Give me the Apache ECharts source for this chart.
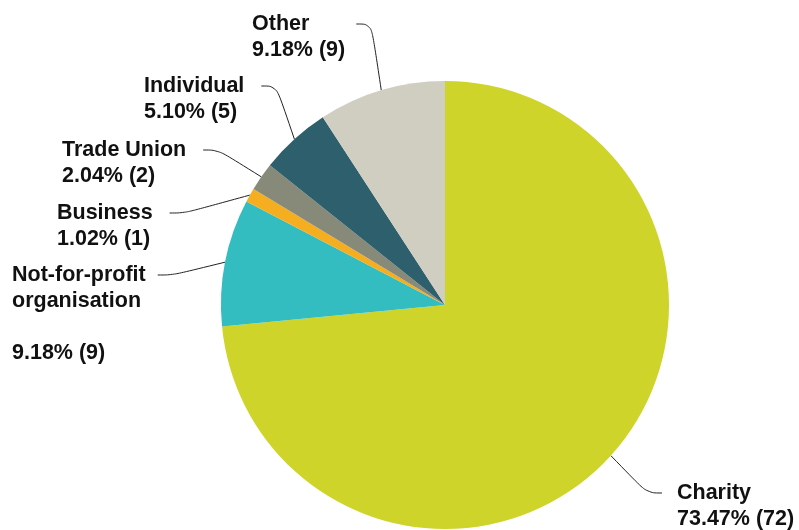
<!DOCTYPE html>
<html>
<head>
<meta charset="utf-8">
<script src="https://cdn.jsdelivr.net/npm/echarts@6/dist/echarts.min.js"></script>
<style>html,body{margin:0;padding:0;background:#fff}#chart{width:799px;height:530px}</style>
</head>
<body>
<div id="chart"></div>
<script>
const categories = ['Charity', 'Not-for-profit organisation', 'Business', 'Trade Union', 'Individual', 'Other'];
const labelHeads = ['Charity', 'Not-for-profit', 'Business', 'Trade Union', 'Individual', 'Other'];
const labelTails = ['', 'organisation\n\n', '', '', '', ''];
const counts = [72, 9, 1, 2, 5, 9];
const colors = ['#cfd42b', '#33bdc0', '#f5ae20', '#888a79', '#2e5f6c', '#d0cec1'];

// label layout (top-left of each text block) and gap to the connector line
const labelPos = [[677, 480], [12, 262], [57, 200], [62, 137], [144, 73], [252, 11]];
const labelGap = [[0, 0, 0, 15], [0, 12, 0, 0], [0, 17, 0, 0], [0, 17, 0, 0], [0, 17, 0, 0], [0, 47, 0, 0]];
const LINE_H = 26;

const total = counts.reduce((a, b) => a + b, 0);
const pct = v => (v / total * 100).toFixed(2) + '% (' + v + ')';
const font = {
  color: '#111',
  fontFamily: 'Liberation Sans, Arial, sans-serif',
  fontWeight: 'bold',
  fontSize: 21.5,
  lineHeight: LINE_H,
  align: 'left'
};
const pieBase = {
  type: 'pie',
  center: [445, 305],
  radius: 224,
  startAngle: 90,
  clockwise: true,
  avoidLabelOverlap: false,
  emphasis: {disabled: true}
};

const chart = echarts.init(document.getElementById('chart'), null, {renderer: 'canvas'});
chart.setOption({
  animation: false,
  backgroundColor: '#ffffff',
  series: [
    Object.assign({}, pieBase, {
      data: categories.map((c, i) => ({
        name: c,
        value: counts[i],
        itemStyle: {color: colors[i]},
        label: {padding: labelGap[i]}
      })),
      itemStyle: {borderWidth: 0},
      label: Object.assign({show: true, position: 'outside', formatter: p => labelHeads[p.dataIndex]}, font),
      labelLine: {
        show: true,
        smooth: 0.4,
        length: 15,
        length2: 15,
        lineStyle: {color: '#222', width: 1}
      },
      labelLayout: function (params) {
        const i = params.dataIndex;
        const p = labelPos[i];
        return {x: p[0] - labelGap[i][3], y: p[1], align: 'left', verticalAlign: 'top', moveOverlap: null};
      }
    }),
    Object.assign({}, pieBase, {
      silent: true,
      z: 1,
      data: categories.map((c, i) => ({name: c, value: counts[i]})),
      itemStyle: {color: 'rgba(0,0,0,0)', borderWidth: 0},
      label: Object.assign({
        show: true,
        position: 'outside',
        formatter: p => labelTails[p.dataIndex] + pct(p.value)
      }, font),
      labelLine: {show: false},
      labelLayout: function (params) {
        const p = labelPos[params.dataIndex];
        return {x: p[0], y: p[1] + LINE_H, align: 'left', verticalAlign: 'top', moveOverlap: null};
      }
    })
  ]
});
</script>
</body>
</html>
